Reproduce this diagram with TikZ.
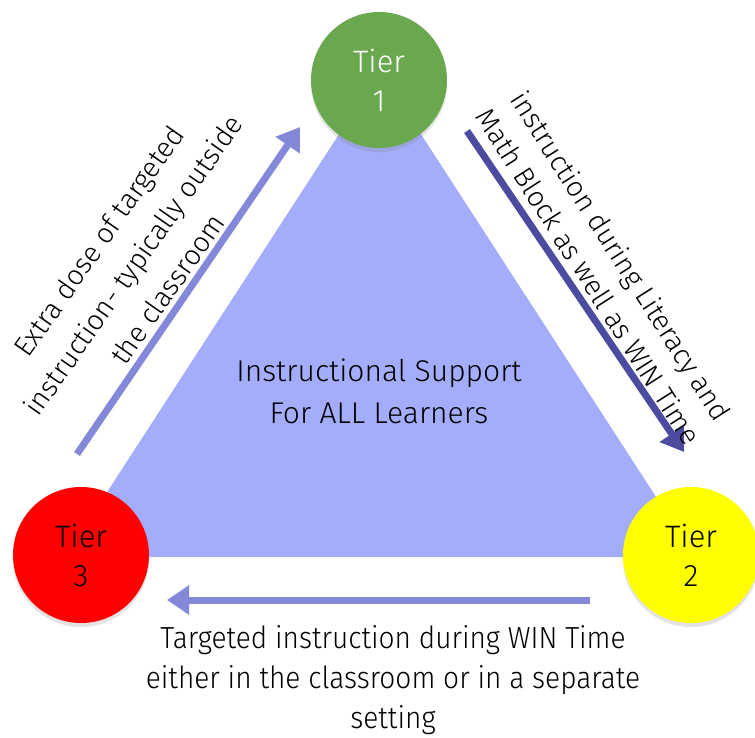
\documentclass[tikz,border=0pt]{standalone}
\usepackage{fontspec}
\setmainfont{Fira Sans}[UprightFont=* Light]
\newfontfamily\condfont{Fira Sans}[UprightFont=* Light, FakeStretch=0.92]
\usetikzlibrary{arrows.meta,shadows}
\definecolor{tri}{HTML}{A3ADFB}
\definecolor{tgreen}{HTML}{6AA84F}
\definecolor{tred}{HTML}{FF0000}
\definecolor{tyellow}{HTML}{FFFF00}
\definecolor{arrlight}{HTML}{8388D9}
\definecolor{arrdark}{HTML}{4B4BA0}
\tikzset{
  tier/.style={circle, minimum size=136pt, inner sep=0pt, align=center,
    font=\fontsize{31}{39}\selectfont,
    drop shadow={opacity=0.22, shadow xshift=0pt, shadow yshift=-4pt}},
  bigarrow/.style={line width=7pt, -{Triangle[length=22pt,width=28pt]}},
  lbl/.style={align=center, inner sep=0pt},
}
\begin{document}
\begin{tikzpicture}[x=1pt,y=-1pt]
\useasboundingbox (0,0) rectangle (755,737);
% triangle
\fill[tri] (380,71) -- (65,557) -- (695,557) -- cycle;
\node[lbl, font=\fontsize{30}{42}\selectfont] (center) at (379,391) {Instructional Support\\For ALL Learners};
% tiers
\node[tier, fill=tgreen, text=white] (t1) at (379,80) {Tier\\1};
\node[tier, fill=tred] (t3) at (81,555) {Tier\\3};
\node[tier, fill=tyellow] (t2) at (691,555) {Tier\\2};
% arrow coordinates
\coordinate (la) at (77,454);
\coordinate (lb) at (300,127);
\coordinate (ra) at (467,131);
\coordinate (rb) at (684,452);
\coordinate (ba) at (590,600);
\coordinate (bb) at (167,600);
\draw[bigarrow, arrlight] (la) -- (lb);
\draw[bigarrow, arrdark] (ra) -- (rb);
\draw[bigarrow, arrlight] (ba) -- (bb);
% labels
\node[lbl, rotate=55, font=\fontsize{28}{42}\selectfont] (ltext) at (133,265)
  {Extra dose of targeted\\instruction- typically outside\\the classroom};
\node[lbl, rotate=-57.5, font=\fontsize{28}{38}\selectfont] (rtext) at (605,266)
  {instruction during Literacy and\\Math Block as well as WIN Time};
\node[lbl, font=\condfont\fontsize{30.5}{40}\selectfont] (btext) at (393,680)
  {Targeted instruction during WIN Time\\either in the classroom or in a separate\\setting};
\end{tikzpicture}
\end{document}
